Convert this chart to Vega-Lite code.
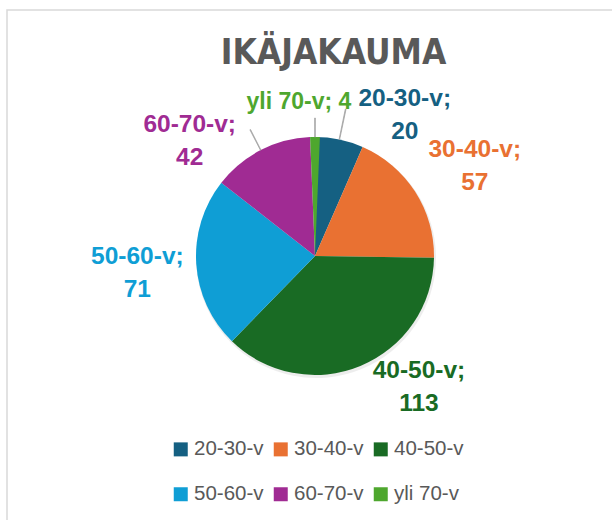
{
  "$schema": "https://vega.github.io/schema/vega-lite/v6.json",
  "width": 605,
  "height": 510,
  "autosize": {"type": "none"},
  "padding": {"left": 7, "top": 10, "right": 0, "bottom": 0},
  "background": "white",
  "title": {
    "text": "IKÄJAKAUMA",
    "font": "DejaVu Sans Condensed",
    "fontSize": 35,
    "fontWeight": "bold",
    "color": "#595959",
    "anchor": "middle",
    "baseline": "alphabetic",
    "offset": -52,
    "dx": 24,
    "dy": 37.5
  },
  "data": {
    "values": [
      {"cat": "20-30-v", "value": 20},
      {"cat": "30-40-v", "value": 57},
      {"cat": "40-50-v", "value": 113},
      {"cat": "50-60-v", "value": 71},
      {"cat": "60-70-v", "value": 42},
      {"cat": "yli 70-v", "value": 4}
    ]
  },
  "transform": [
    {"stack": "value", "groupby": [], "sort": [{"field": "cat", "order": "ascending"}], "as": ["v0", "v1"]},
    {"calculate": "(datum.v0 + datum.v1) / 2", "as": "vmid"},
    {"calculate": "datum.vmid - 0.12", "as": "l0"},
    {"calculate": "datum.vmid + 0.12", "as": "l1"},
    {"calculate": "datum.cat == 'yli 70-v' ? datum.cat + '; ' + datum.value : datum.cat + ';\\n' + datum.value", "as": "label"}
  ],
  "layer": [
    {
      "transform": [{"filter": {"field": "cat", "equal": "20-30-v"}}],
      "mark": {
        "type": "rect",
        "x": 0,
        "y": 0,
        "x2": {"expr": "width + 30"},
        "y2": {"expr": "height + 30"},
        "fill": null,
        "fillOpacity": 0,
        "stroke": "#d9d9d9",
        "strokeWidth": 1.5
      },
      "encoding": {}
    },
    {
      "mark": {"type": "arc", "radius": 120, "fill": "#000000", "opacity": 0.07, "x": {"expr": "width/2 + 6.5"}, "y": {"expr": "height/2 - 7"}},
      "encoding": {
        "theta": {"field": "v0", "type": "quantitative", "stack": null, "scale": {"nice": false, "zero": true}},
        "theta2": {"field": "v1"}
      }
    },
    {
      "mark": {"type": "arc", "radius": 119, "x": {"expr": "width/2 + 5.5"}, "y": {"expr": "height/2 - 9"}},
      "encoding": {
        "theta": {"field": "v0", "type": "quantitative", "stack": null},
        "theta2": {"field": "v1"},
        "color": {
          "field": "cat",
          "type": "nominal",
          "scale": {
            "domain": ["20-30-v", "30-40-v", "40-50-v", "50-60-v", "60-70-v", "yli 70-v"],
            "range": ["#156082", "#E97132", "#196B24", "#0F9ED5", "#A02B93", "#4EA72E"]
          },
          "legend": {
            "title": null,
            "orient": "none",
            "legendX": 163.5,
            "legendY": 429,
            "columns": 3,
            "direction": "horizontal",
            "symbolType": "square",
            "symbolSize": 196,
            "symbolStrokeWidth": 0,
            "labelFont": "Liberation Sans",
            "labelFontSize": 20.5,
            "labelColor": "#595959",
            "labelOffset": 3,
            "columnPadding": 6,
            "rowPadding": 24,
            "padding": 0
          }
        }
      }
    },
    {
      "transform": [{"filter": {"field": "cat", "oneOf": ["20-30-v", "60-70-v", "yli 70-v"]}}],
      "mark": {
        "type": "arc",
        "radius": {"expr": "datum.cat == '20-30-v' ? 150 : datum.cat == '60-70-v' ? 142 : 138"},
        "radius2": 119,
        "fill": "#a6a6a6",
        "stroke": "#a6a6a6",
        "strokeWidth": 0.8,
        "x": {"expr": "width/2 + 5.5"},
        "y": {"expr": "height/2 - 9"}
      },
      "encoding": {
        "theta": {"field": "l0", "type": "quantitative", "stack": null},
        "theta2": {"field": "l1"}
      }
    },
    {
      "mark": {
        "type": "text",
        "radius": 165,
        "x": {"expr": "width/2 + 5.5"},
        "y": {"expr": "height/2 - 9"},
        "dx": {"expr": "datum.cat == '20-30-v' ? 56 : datum.cat == '30-40-v' ? 21 : datum.cat == '40-50-v' ? 41 : datum.cat == '50-60-v' ? -13 : datum.cat == '60-70-v' ? -50 : -16"},
        "dy": {"expr": "datum.cat == '20-30-v' ? 4.5 : datum.cat == '30-40-v' ? -16.5 : datum.cat == '40-50-v' ? -37.5 : datum.cat == '50-60-v' ? -10.5 : datum.cat == '60-70-v' ? 15.5 : 11"},
        "font": "Liberation Sans",
        "fontSize": {"expr": "datum.cat == 'yli 70-v' ? 23 : 24.5"},
        "fontWeight": "bold",
        "lineBreak": "\n",
        "lineHeight": 33,
        "align": "center",
        "baseline": "middle"
      },
      "encoding": {
        "theta": {"field": "vmid", "type": "quantitative", "stack": null},
        "text": {"field": "label"},
        "color": {"field": "cat", "type": "nominal"}
      }
    }
  ],
  "config": {
    "view": {"stroke": null}
  }
}
